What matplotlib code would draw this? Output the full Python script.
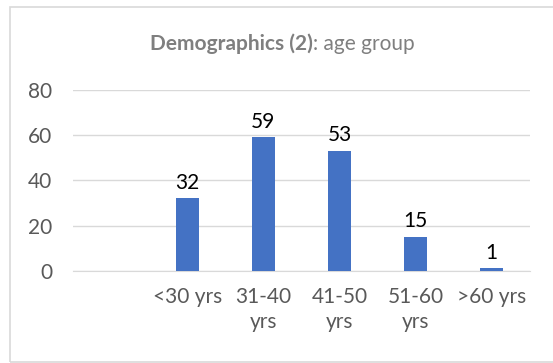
import matplotlib.pyplot as plt
from matplotlib.patches import Rectangle

# age group counts
categories = ['', '<30 yrs', '31-40\nyrs', '41-50\nyrs', '51-60\nyrs', '>60 yrs']
values = [0, 32, 59, 53, 15, 1]
labels = ['', '32', '59', '53', '15', '1']

plt.rcParams['font.family'] = ['Lato', 'DejaVu Sans']

fig = plt.figure(figsize=(5.53, 3.63), dpi=100)
fig.patches.append(Rectangle((0.018, 0.004), 1.0, 0.977, transform=fig.transFigure,
                             fill=False, edgecolor='#d9d9d9', linewidth=1.2))
ax = fig.add_axes([0.132, 0.2543, 0.826, 0.4978])

x = range(len(categories))
bars = ax.bar(x, values, width=0.30, color='#4472C4', zorder=3)
for b, lab in zip(bars, labels):
    if lab:
        ax.annotate(lab, (b.get_x() + b.get_width() / 2, b.get_height()),
                    xytext=(0, 4), textcoords='offset points',
                    ha='center', va='bottom', fontsize=15, color='black')

ax.set_xlim(-0.5, len(categories) - 0.5)
ax.set_ylim(0, 80)
ax.set_yticks([0, 20, 40, 60, 80])
ax.set_xticks(list(x))
ax.set_xticklabels(categories, fontsize=15, color='#595959', linespacing=1.3, va='top')
ax.tick_params(axis='y', length=0, pad=15, labelsize=15, labelcolor='#595959')
ax.tick_params(axis='x', length=0, pad=12)
ax.grid(axis='y', color='#d9d9d9', linewidth=1, zorder=0)
for s in ['top', 'right', 'left']:
    ax.spines[s].set_visible(False)
ax.spines['bottom'].set_color('#d9d9d9')

# title: bold part + normal part, centred around x ~ 282 px
t1 = fig.text(0.0, 0.88, 'Demographics (2)', fontsize=15, color='#7f7f7f',
              fontweight='bold', ha='left', va='center')
t2 = fig.text(0.0, 0.88, ': age group', fontsize=15, color='#7f7f7f',
              ha='left', va='center')
fig.canvas.draw()
r = fig.canvas.get_renderer()
w1 = t1.get_window_extent(r).width
w2 = t2.get_window_extent(r).width
start = 282 - (w1 + w2) / 2
t1.set_x(start / fig.bbox.width)
t2.set_x((start + w1) / fig.bbox.width)

fig.savefig('out.png', dpi=100)
